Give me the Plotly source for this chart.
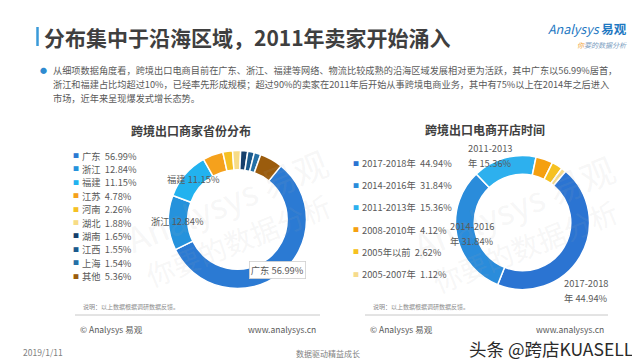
import math
import plotly.graph_objects as go

W, H = 640, 360
FONT = "Noto Sans CJK SC"

# ---------------- data ----------------
prov_labels = ["广东", "浙江", "福建", "江苏", "河南", "湖北", "湖南", "江西", "上海", "其他"]
prov_values = [56.99, 12.84, 11.15, 4.78, 2.26, 1.88, 1.65, 1.55, 1.54, 5.36]
prov_colors = ["#2B7AD3", "#2592DC", "#22B2EF", "#F5A11C", "#F5C024", "#F7DC86",
               "#163F6C", "#1B5A8D", "#2570A6", "#9B5C0D"]

year_labels = ["2017-2018年", "2014-2016年", "2011-2013年", "2008-2010年", "2005年以前", "2005-2007年"]
year_values = [44.94, 31.84, 15.36, 4.12, 2.62, 1.12]
year_colors = ["#2B74D2", "#2A8CDB", "#2DB0EE", "#F5A011", "#F6C120", "#F6DB8C"]

title_text = "分布集中于沿海区域，2011年卖家开始涌入"
bullet_lines = [
    "从细项数据角度看，跨境出口电商目前在广东、浙江、福建等网络、物流比较成熟的沿海区域发展相对更为活跃，其中广东以56.99%居首，",
    "浙江和福建占比均超过10%，已经率先形成规模；超过90%的卖家在2011年后开始从事跨境电商业务，其中有75%以上在2014年之后进入",
    "市场，近年来呈现爆发式增长态势。",
]
left_title = "跨境出口商家省份分布"
right_title = "跨境出口电商开店时间"

# ---------------- layout helpers ----------------
def px(x):
    return x / W

def py(y):
    return 1 - y / H

L_CX, L_CY, L_R = 229.5, 211.5, 69
R_CX, R_CY, R_R = 514.5, 214.5, 67
L_ROT, R_ROT = 39, 40
HOLE = 0.72

def domain(cx, cy, r):
    return dict(x=[px(cx - r), px(cx + r)], y=[py(cy + r), py(cy - r)])

fig = go.Figure()
fig.add_trace(go.Pie(
    labels=prov_labels, values=prov_values, sort=False, direction="clockwise",
    rotation=L_ROT, hole=HOLE, domain=domain(L_CX, L_CY, L_R),
    marker=dict(colors=prov_colors, line=dict(color="white", width=1.5)),
    textinfo="none", hoverinfo="label+percent", showlegend=False,
))
fig.add_trace(go.Pie(
    labels=year_labels, values=year_values, sort=False, direction="clockwise",
    rotation=R_ROT, hole=HOLE, domain=domain(R_CX, R_CY, R_R),
    marker=dict(colors=year_colors, line=dict(color="white", width=1.5)),
    textinfo="none", hoverinfo="label+percent", showlegend=False,
))

ann = []
shapes = []

def text(x, y, s, size=10, color="#595959", xanchor="left", bold=False, **kw):
    if bold:
        s = "<b>" + s + "</b>"
    d = dict(x=px(x), y=py(y), xref="paper", yref="paper", text=s, showarrow=False,
             xanchor=xanchor, yanchor="middle", font=dict(family=FONT, size=size, color=color))
    d.update(kw)
    ann.append(d)

# watermarks
for wx, wy in [(218, 192), (505, 198)]:
    text(wx, wy, "Analysys 易观", size=34, color="rgba(170,170,170,0.11)", xanchor="center", textangle=-22)
    text(wx + 12, wy + 40, "你要的数据分析", size=28, color="rgba(170,170,170,0.11)", xanchor="center", textangle=-22)

# header
shapes.append(dict(type="line", xref="paper", yref="paper", x0=px(29.5), x1=px(29.5), y0=py(19), y1=py(38),
                   line=dict(color="#3A9AD9", width=2.5)))
text(34, 29, title_text, size=21, color="#3F3F3F", bold=True)
text(538, 20.5, "<i>Analysys</i> <b>易观</b>", size=12.5, color="#1E78C2")
text(567, 37, "<i><span style='color:#F0A030'>你</span>要的数据分析</i>", size=7, color="#7A9CC0")

# bullet paragraph
text(35, 62, "●", size=7, color="#2E8BD0", xanchor="center")
for i, line in enumerate(bullet_lines):
    text(43, 62 + i * 14, line, size=9.2, color="#595959")

# panel titles
text(183, 122, left_title, size=12, color="#404040", xanchor="center", bold=True)
text(477, 121, right_title, size=12, color="#404040", xanchor="center", bold=True)

# legends
for i, (lab, val, col) in enumerate(zip(prov_labels, prov_values, prov_colors)):
    y = 147.5 + i * 13.4
    text(68, y, "■", size=6, color=col, xanchor="center")
    text(72, y, f"{lab}  {val:.2f}%", size=9.3)
for i, (lab, val, col) in enumerate(zip(year_labels, year_values, year_colors)):
    y = 155 + i * 22.2
    text(348, y, "■", size=6, color=col, xanchor="center")
    text(352, y, f"{lab}  {val:.2f}%", size=9.3)

# slice labels computed from slice mid-angles
def mid_point(values, idx, rot, cx, cy, r):
    tot = sum(values)
    start = rot + 360 * sum(values[:idx]) / tot
    mid = math.radians(start + 180 * values[idx] / tot)
    rr = r * (1 + HOLE) / 2
    return cx + rr * math.sin(mid), cy - rr * math.cos(mid)

left_lab = {0: (3, 4, True), 1: (-1, -1, False), 2: (1, -2, False)}
for idx, (dx, dy, box) in left_lab.items():
    x, y = mid_point(prov_values, idx, L_ROT, L_CX, L_CY, L_R)
    extra = dict(bgcolor="white", bordercolor="#D0D0D0", borderwidth=0.8, borderpad=1) if box else {}
    text(x + dx, y + dy, f"{prov_labels[idx]} {prov_values[idx]:.2f}%", size=9.3,
         xanchor="center", **extra)

right_lab = {0: (10, 38), 1: (2, 0), 2: (-21, -12)}
for idx, (dx, dy) in right_lab.items():
    x, y = mid_point(year_values, idx, R_ROT, R_CX, R_CY, R_R)
    yrs = year_labels[idx][:-1] if year_labels[idx].endswith("年") else year_labels[idx]
    text(x + dx - 20, y + dy - 7.5, yrs, size=9.3)
    text(x + dx - 20, y + dy + 7.5, f"年 {year_values[idx]:.2f}%", size=9.3)

# footers of panels
for x0, x1 in [(67, 312), (357, 600)]:
    text(x0 + 6, 298, "说明：以上数据根据调研数据反馈。", size=6, color="#8C8C8C")
    shapes.append(dict(type="line", xref="paper", yref="paper", x0=px(x0), x1=px(x1), y0=py(307), y1=py(307),
                       line=dict(color="#C8C8C8", width=1)))
    text(x0 + 3, 321, "© Analysys 易观", size=8.5, color="#595959")
    text(x1 - 2, 321, "www.analysys.cn", size=8.5, color="#595959", xanchor="right")

# page footer
text(13, 344, "2019/1/11", size=8.5, color="#7F7F7F")
text(320, 345, "数据驱动精益成长", size=8, color="#7F7F7F", xanchor="center")
text(543, 340, "头条 @跨店KUASELL", size=17.5, color="#2A2A2A", xanchor="center")

fig.update_layout(
    width=W, height=H, margin=dict(l=0, r=0, t=0, b=0),
    paper_bgcolor="white", plot_bgcolor="white",
    annotations=ann, shapes=shapes, showlegend=False,
)
fig.write_html("out.html")
